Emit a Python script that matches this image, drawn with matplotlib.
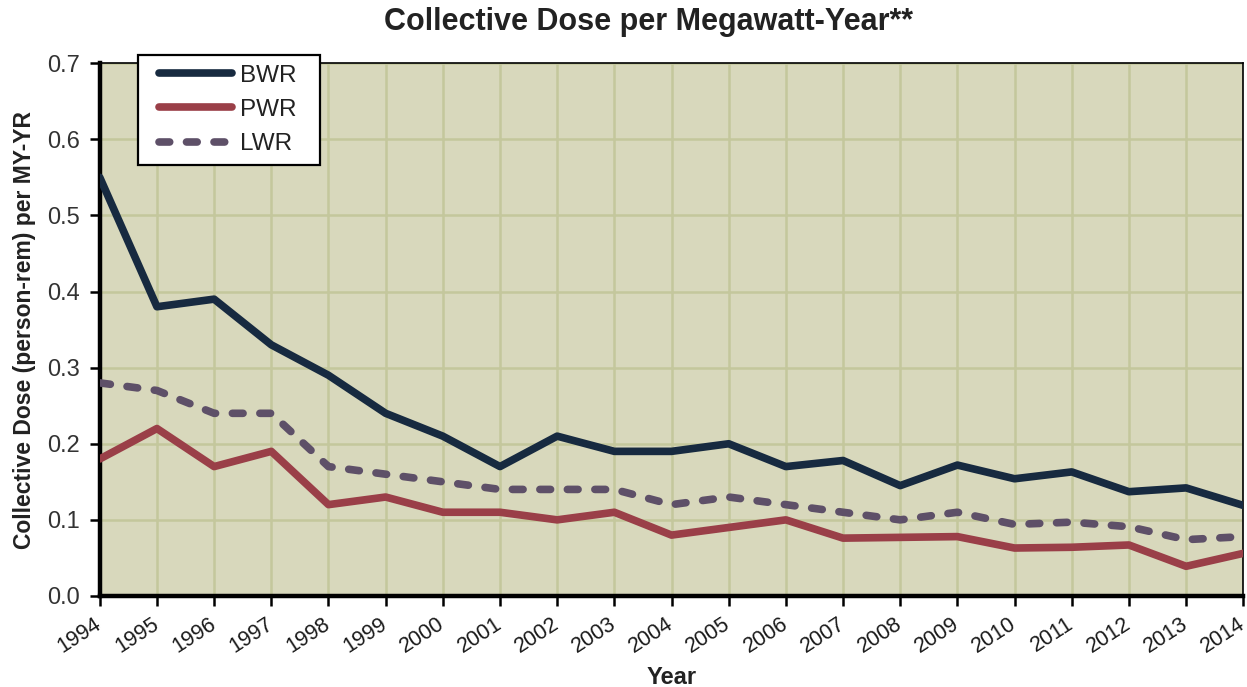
import matplotlib
matplotlib.use('Agg')
import matplotlib.pyplot as plt
from matplotlib.legend_handler import HandlerLine2D

plt.rcParams['font.family'] = ['Liberation Sans', 'DejaVu Sans']

# Datos
years = list(range(1994, 2015))
bwr = [0.55, 0.38, 0.39, 0.33, 0.29, 0.24, 0.21, 0.17, 0.21, 0.19, 0.19,
       0.20, 0.17, 0.178, 0.145, 0.172, 0.154, 0.163, 0.137, 0.142, 0.119]
pwr = [0.18, 0.22, 0.17, 0.19, 0.12, 0.13, 0.11, 0.11, 0.10, 0.11, 0.08,
       0.09, 0.10, 0.076, 0.077, 0.078, 0.063, 0.064, 0.067, 0.039, 0.056]
lwr = [0.28, 0.27, 0.24, 0.24, 0.17, 0.16, 0.15, 0.14, 0.14, 0.14, 0.12,
       0.13, 0.12, 0.11, 0.10, 0.11, 0.094, 0.097, 0.091, 0.074, 0.078]
y_ticks = [0.0, 0.1, 0.2, 0.3, 0.4, 0.5, 0.6, 0.7]

fig = plt.figure(figsize=(12.47, 6.87), dpi=100)
ax = fig.add_axes([0.080, 0.1325, 0.917, 0.7755])
ax.set_facecolor('#d8d8bc')

ax.plot(years, bwr, color='#172a40', lw=5.5, solid_capstyle='round', label='BWR  ', zorder=3)
ax.plot(years, pwr, color='#9a3f48', lw=5.5, solid_capstyle='round', label='PWR  ', zorder=3)
ax.plot(years, lwr, color='#5e5068', lw=5.5, ls=(0, (1.4, 2.2)), dash_capstyle='round',
        label='LWR  ', zorder=3)

ax.set_xlim(1994, 2014)
ax.set_ylim(0, 0.7)
ax.set_xticks(years)
ax.set_xticklabels([str(y) for y in years], rotation=33, ha='right', va='center',
                   rotation_mode='anchor', fontsize=15.5)
ax.set_yticks(y_ticks)
ax.set_yticklabels([f'{v:.1f}' for v in y_ticks], fontsize=17)
ax.grid(True, color='#c4c79c', lw=1.8, zorder=0)
ax.set_axisbelow(True)
ax.tick_params(direction='out', length=7, width=1.8, colors='black')
ax.tick_params(axis='x', pad=12)
ax.tick_params(axis='y', pad=7)
for lbl in ax.get_yticklabels():
    lbl.set_color('#333333')
for lbl in ax.get_xticklabels():
    lbl.set_color('#1a1a1a')

for side in ['left', 'bottom']:
    ax.spines[side].set_linewidth(3.2)
for side in ['top', 'right']:
    ax.spines[side].set_linewidth(1.2)

fig.text(648 / 1247, 1 - 22 / 687, 'Collective Dose per Megawatt-Year**', fontsize=22,
         fontweight='bold', color='#222222', ha='center', va='center')
ax.set_xlabel('Year', fontsize=17, fontweight='bold', color='#222222', labelpad=6)
ax.set_ylabel('Collective Dose (person-rem) per MY-YR', fontsize=16.5, fontweight='bold',
              color='#222222', labelpad=8)

# leyenda con linea desplazada a la derecha (xpad) como en el original
leg = ax.legend(loc='upper left', bbox_to_anchor=(138 / 1247, 1 - 55 / 687),
                bbox_transform=fig.transFigure, borderaxespad=0, fontsize=17.5, frameon=True,
                fancybox=False, edgecolor='black', framealpha=1,
                handlelength=3.45, handletextpad=0.35, borderpad=0.4, labelspacing=0.5,
                handler_map={matplotlib.lines.Line2D: HandlerLine2D(xpad=0.45)})
leg.get_frame().set_linewidth(1.6)
leg.set_zorder(5)
for t in leg.get_texts():
    t.set_color('#222222')

plt.savefig('out.png', dpi=100)
